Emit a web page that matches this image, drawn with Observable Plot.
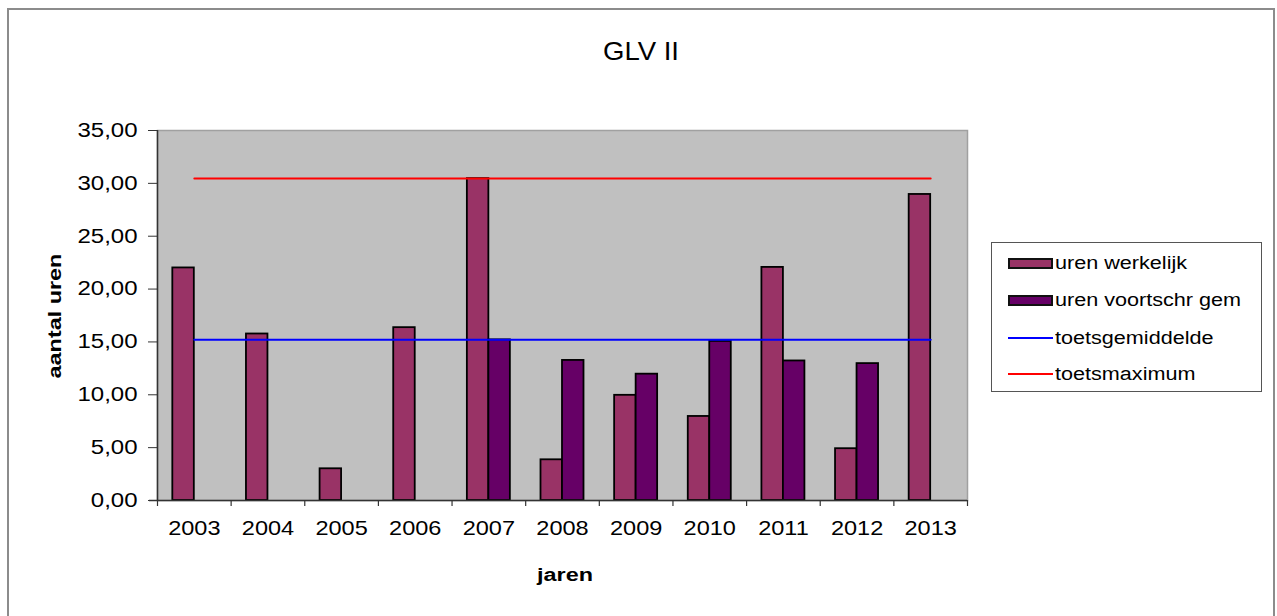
<!DOCTYPE html>
<html>
<head>
<meta charset="utf-8">
<script src="https://cdn.jsdelivr.net/npm/d3@7"></script>
<script src="https://cdn.jsdelivr.net/npm/@observablehq/plot@0.6"></script>
<style>
  html, body { margin: 0; padding: 0; background: #fff; overflow: hidden; width: 1277px; height: 616px; }
  #wrap { position: relative; width: 1277px; height: 616px; font-family: "Liberation Sans", Arial, sans-serif; color: #000; }
  #border { position: absolute; left: 7px; top: 8px; width: 1268px; height: 700px; border: 2px solid #8c8c8c; box-sizing: border-box; }
  #chart { position: absolute; left: 0; top: 0; }
  .lbl { position: absolute; white-space: nowrap; line-height: 1; }
  #title { left: 641px; top: 38px; font-size: 26px; transform: translateX(-50%) scaleX(1.06); }
  #ylab { left: 55px; top: 316px; font-size: 18px; font-weight: bold; transform: translate(-50%, -50%) rotate(-90deg) scaleX(1.3); }
  #xlab { left: 565px; top: 566px; font-size: 18px; font-weight: bold; transform: translateX(-50%) scaleX(1.3); }
  #legend { position: absolute; left: 991px; top: 242px; width: 271px; height: 150px; border: 1px solid #555; box-sizing: border-box; background: #fff; }
  .item { position: absolute; left: 16px; height: 20px; }
  .sw { position: absolute; left: 0; top: 5px; width: 45px; height: 11px; box-sizing: border-box; border: 2px solid #111; }
  .ln { position: absolute; left: 0; top: 9px; width: 45px; height: 2px; }
  .txt { position: absolute; left: 47px; top: 0px; font-size: 18px; transform-origin: left center; transform: scaleX(1.2); white-space: nowrap; }
</style>
</head>
<body>
<div id="wrap">
  <div id="border"></div>
  <div id="chart"></div>
  <div class="lbl" id="title">GLV II</div>
  <div class="lbl" id="ylab">aantal uren</div>
  <div class="lbl" id="xlab">jaren</div>
  <div id="legend"></div>
</div>
<script>
// ---- data ----
const years = ["2003", "2004", "2005", "2006", "2007", "2008", "2009", "2010", "2011", "2012", "2013"];
const urenWerkelijk = [22.0, 15.75, 3.0, 16.35, 30.45, 3.85, 9.95, 7.95, 22.05, 4.9, 28.95];
const urenVoortschr = [null, null, null, null, 15.2, 13.25, 11.95, 15.05, 13.2, 12.95, null];
const toetsgemiddelde = [15.2, 15.2, 15.2, 15.2, 15.2, 15.2, 15.2, 15.2, 15.2, 15.2, 15.2];
const toetsmaximum = [30.45, 30.45, 30.45, 30.45, 30.45, 30.45, 30.45, 30.45, 30.45, 30.45, 30.45];
const yTicks = [0, 5, 10, 15, 20, 25, 30, 35];
const seriesNames = ["uren werkelijk", "uren voortschr gem", "toetsgemiddelde", "toetsmaximum"];
const seriesColors = ["#993366", "#660066", "#0000ff", "#ff0000"];

// ---- tables ----
const werk = years.map((y, i) => ({year: y, value: urenWerkelijk[i]})).filter(d => d.value != null);
const voort = years.map((y, i) => ({year: y, value: urenVoortschr[i]})).filter(d => d.value != null);
const gem = years.map((y, i) => ({year: y, value: toetsgemiddelde[i]}));
const max = years.map((y, i) => ({year: y, value: toetsmaximum[i]}));

const nl = d3.formatLocale({decimal: ",", thousands: ".", grouping: [3], currency: ["€", ""]});
const fmt = nl.format(".2f");

const W = 1277, H = 616;
const mL = 157, mR = 310, mT = 130, mB = 116;
const step = (W - mL - mR) / years.length;
const half = step * (1 - 0.416) / 2;

const chart = Plot.plot({
  width: W,
  height: H,
  marginLeft: mL,
  marginRight: mR,
  marginTop: mT,
  marginBottom: mB,
  style: {fontFamily: "'Liberation Sans', Arial, sans-serif", fontSize: "20px", color: "#000", background: "transparent", overflow: "visible"},
  x: {domain: years, paddingInner: 0.416, paddingOuter: 0.208, round: false, label: null},
  y: {domain: [0, 35], label: null},
  marks: [
    Plot.frame({fill: "#c0c0c0", stroke: "#a0a0a0", strokeWidth: 1.5}),
    Plot.barY(werk, {x: "year", y: "value", fill: seriesColors[0], stroke: "#000", strokeWidth: 1.8, insetRight: half}),
    Plot.barY(voort, {x: "year", y: "value", fill: seriesColors[1], stroke: "#000", strokeWidth: 1.8, insetLeft: half}),
    Plot.lineY(gem, {x: "year", y: "value", stroke: seriesColors[2], strokeWidth: 2}),
    Plot.lineY(max, {x: "year", y: "value", stroke: seriesColors[3], strokeWidth: 2}),
    // y axis line (left edge of first band)
    Plot.ruleX([years[0]], {x: d => d, dx: -step / 2, stroke: "#333", strokeWidth: 1.5}),
    // x axis line
    Plot.ruleY([0], {stroke: "#333", strokeWidth: 1.5, insetLeft: -8}),
    // x ticks at category boundaries
    Plot.ruleX(years, {x: d => d, dx: -step / 2, stroke: "#333", strokeWidth: 1.2, insetTop: H - mT - mB, insetBottom: -6}),
    Plot.ruleX([years[years.length - 1]], {x: d => d, dx: step / 2, stroke: "#333", strokeWidth: 1.2, insetTop: H - mT - mB, insetBottom: -6}),
    Plot.axisY({ticks: yTicks, tickFormat: fmt, tickSize: 9, tickPadding: 11, fontSize: 20, stroke: "#333", label: null}),
    Plot.axisX({tickSize: 0, tickPadding: 20, fontSize: 21, label: null})
  ]
});
document.getElementById("chart").appendChild(chart);

// stretch tick labels horizontally to match the wide rendering of the original
chart.querySelectorAll("g[aria-label='y-axis tick label'] text").forEach(t => {
  const len = t.getComputedTextLength();
  t.setAttribute("textLength", len * 1.2);
  t.setAttribute("lengthAdjust", "spacingAndGlyphs");
});
chart.querySelectorAll("g[aria-label='x-axis tick label'] text").forEach(t => {
  const len = t.getComputedTextLength();
  t.setAttribute("textLength", len * 1.12);
  t.setAttribute("lengthAdjust", "spacingAndGlyphs");
});

// legend
const legend = document.getElementById("legend");
const rowTops = [10, 47, 85, 121];
seriesNames.forEach((name, i) => {
  const item = document.createElement("div");
  item.className = "item";
  item.style.top = rowTops[i] + "px";
  const sw = document.createElement("div");
  if (i < 2) { sw.className = "sw"; sw.style.background = seriesColors[i]; }
  else { sw.className = "ln"; sw.style.background = seriesColors[i]; }
  const tx = document.createElement("div");
  tx.className = "txt";
  tx.textContent = name;
  item.appendChild(sw);
  item.appendChild(tx);
  legend.appendChild(item);
});
</script>
</body>
</html>
